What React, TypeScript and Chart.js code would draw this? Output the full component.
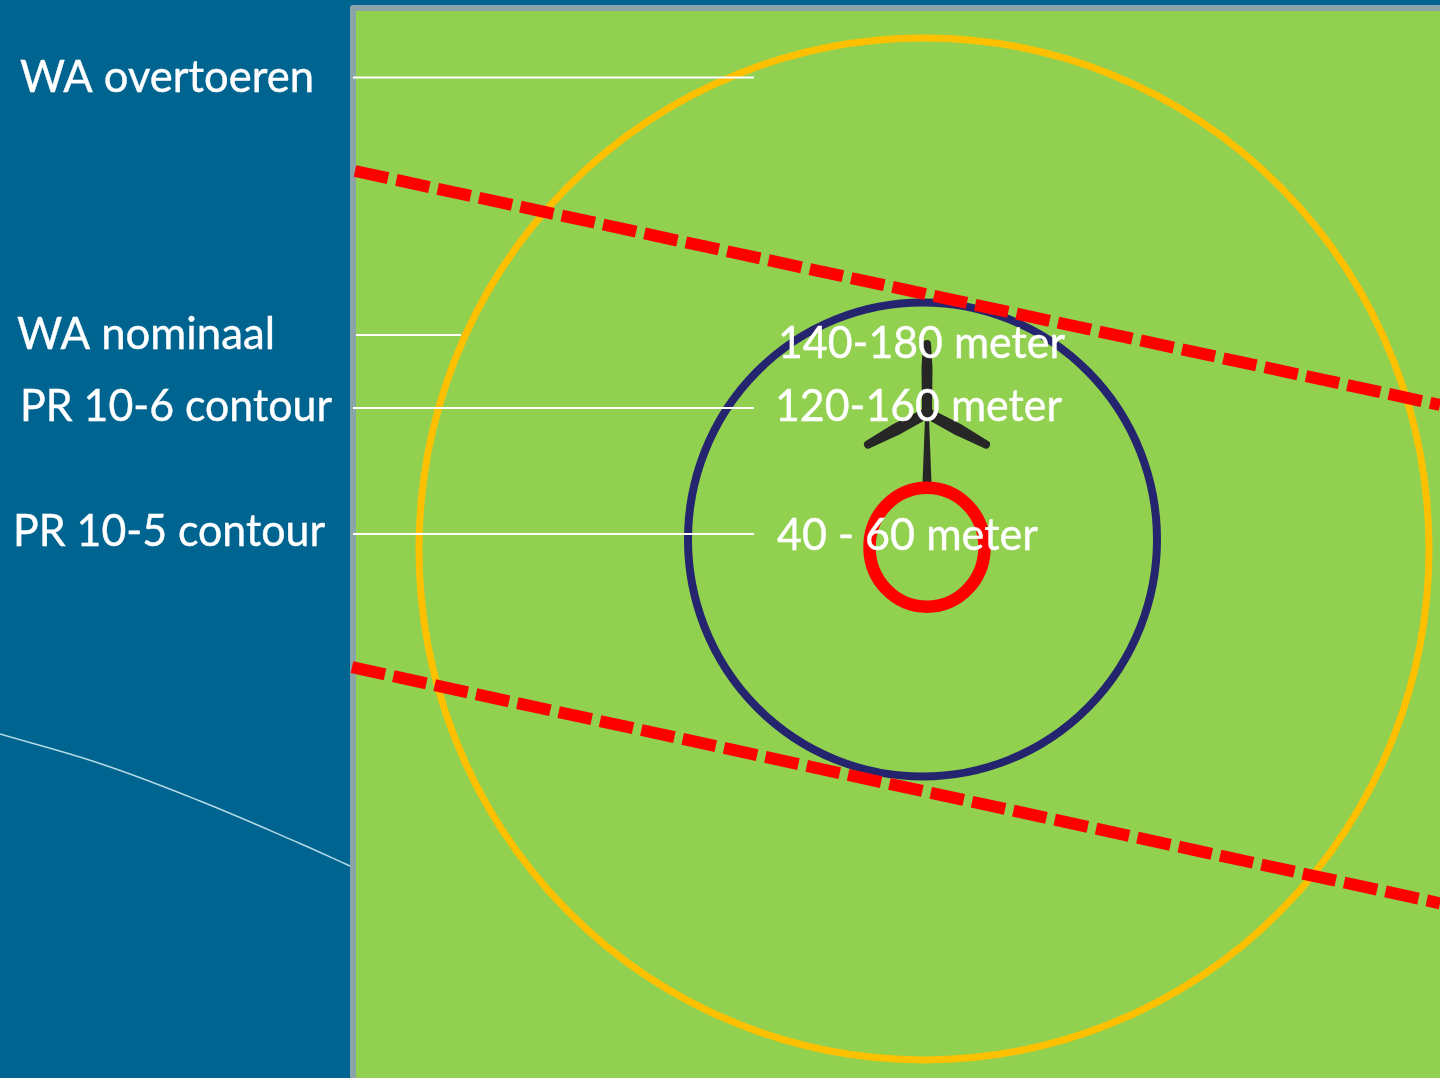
import React, { useEffect, useRef } from "react";
import { Chart, registerables, ScatterController } from "chart.js";

// ---- Data (values are in reference pixel units) ----
const outerLabels = ["WA overtoeren", "WA nominaal", "PR 10-6 contour", "PR 10-5 contour"];
const heightLabels = ["140-180 meter", "120-160 meter", "40 - 60 meter"];

const waOvertoerenLeader = [{ x: 353, y: 77.5 }, { x: 754, y: 77.5 }];
const waNominaalLeader = [{ x: 356, y: 335 }, { x: 461, y: 335 }];
const pr106Leader = [{ x: 353, y: 408 }, { x: 754, y: 408 }];
const pr105Leader = [{ x: 353, y: 534 }, { x: 754, y: 534 }];

const contourUpper = [{ x: 355, y: 171 }, { x: 1440, y: 405 }];
const contourLower = [{ x: 352, y: 667.2 }, { x: 1440, y: 903.3 }];

const coastline = [
  { x: 0, y: 734 }, { x: 100, y: 763.5 }, { x: 200, y: 801 },
  { x: 300, y: 843.5 }, { x: 350, y: 866 },
];

const waRing = [{ x: 924, y: 549, rx: 505, ry: 511 }];
const tipRing = [{ x: 922.5, y: 539.5, rx: 234.5, ry: 237 }];
const rotorRing = [{ x: 927, y: 547.2, rx: 57.5, ry: 59.5 }];

const bladeUp = [
  { x: 927, y: 344 }, { x: 928.5, y: 368 }, { x: 928, y: 412 }, { x: 926, y: 412 }, { x: 925.5, y: 368 },
];
const bladeLeft = [
  { x: 868, y: 444.5 }, { x: 893.8, y: 428.3 }, { x: 924.3, y: 412.7 }, { x: 925.7, y: 415.3 }, { x: 896.2, y: 431.7 },
];
const bladeRight = [
  { x: 986, y: 444.5 }, { x: 960.2, y: 428.3 }, { x: 929.7, y: 412.7 }, { x: 928.3, y: 415.3 }, { x: 957.8, y: 431.7 },
];
const tower = [{ x: 926, y: 418 }, { x: 928, y: 418 }, { x: 930.5, y: 483 }, { x: 923.5, y: 483 }];

// ---- Layout and style ----
const W = 1440;
const H = 1078;
const FONT = "44px Lato";
const outerPos = [[20, 92, 294], [17, 349, 258], [20, 421, 312], [13, 546, 312]];
const heightPos = [[778, 358, 287], [775, 421, 287], [777, 550, 261]];

class RingController extends ScatterController {
  static id = "ring";
  static defaults = ScatterController.defaults;
  static overrides = ScatterController.overrides;
  draw() {
    const ctx = this.chart.ctx;
    const meta = this.getMeta();
    const ds: any = this.getDataset();
    ctx.save();
    ctx.strokeStyle = ds.ringColor;
    ctx.lineWidth = ds.ringWidth;
    for (const p of ds.data) {
      const cx = meta.xScale.getPixelForValue(p.x);
      const cy = meta.yScale.getPixelForValue(p.y);
      const rx = meta.xScale.getPixelForValue(p.x + p.rx) - cx;
      const ry = meta.yScale.getPixelForValue(p.y + p.ry) - cy;
      ctx.beginPath();
      ctx.ellipse(cx, cy, rx, ry, 0, 0, Math.PI * 2);
      ctx.stroke();
    }
    ctx.restore();
  }
}

Chart.register(...registerables, RingController as any);

const panelPlugin = {
  id: "panel",
  beforeDatasetsDraw(chart: any) {
    const { ctx, scales } = chart;
    const px = (v: number) => scales.x.getPixelForValue(v);
    const py = (v: number) => scales.y.getPixelForValue(v);
    ctx.save();
    ctx.fillStyle = "#8BA4A9";
    ctx.beginPath();
    ctx.roundRect(px(350), py(5), px(1440) - px(350), py(1078) - py(5), [3, 0, 0, 0]);
    ctx.fill();
    ctx.fillStyle = "#92D050";
    ctx.fillRect(px(356), py(11), px(1440) - px(356), py(1078) - py(11));
    ctx.restore();
  },
};

const textPlugin = {
  id: "texts",
  afterDatasetsDraw(chart: any) {
    const { ctx, scales } = chart;
    ctx.save();
    ctx.font = FONT;
    ctx.fillStyle = "#FFFFFF";
    ctx.strokeStyle = "#FFFFFF";
    ctx.lineWidth = 0.4;
    ctx.textBaseline = "alphabetic";
    ctx.textAlign = "left";
    const put = (labels: string[], pos: number[][]) =>
      labels.forEach((t, i) => {
        const x = scales.x.getPixelForValue(pos[i][0]);
        const y = scales.y.getPixelForValue(pos[i][1]);
        ctx.fillText(t, x, y, pos[i][2]);
        ctx.strokeText(t, x, y, pos[i][2]);
      });
    put(outerLabels, outerPos);
    put(heightLabels, heightPos);
    ctx.restore();
  },
};

const leader = (data: any[]) => ({
  type: "line", data, borderColor: "#FFFFFF", borderWidth: 2, pointRadius: 0, fill: false,
});
const dashed = (data: any[]) => ({
  type: "line", data, borderColor: "#FF0000", borderWidth: 12, borderDash: [33.8, 8.5],
  borderCapStyle: "butt", pointRadius: 0, fill: false,
});
const poly = (data: any[], borderWidth: number) => ({
  type: "line", data: [...data, data[0]], borderColor: "#262626", backgroundColor: "#262626", borderWidth,
  borderJoinStyle: "round", borderCapStyle: "round", pointRadius: 0, fill: "shape", tension: 0,
});
const ring = (data: any[], ringColor: string, ringWidth: number) => ({
  type: "ring", data, ringColor, ringWidth, pointRadius: 0,
});

export default function App() {
  const ref = useRef<HTMLCanvasElement>(null);
  useEffect(() => {
    document.body.style.margin = "0";
    document.body.style.background = "#006490";
    document.documentElement.style.overflow = "hidden";
    const chart = new Chart(ref.current as HTMLCanvasElement, {
      type: "scatter",
      data: {
        datasets: [
          leader(waOvertoerenLeader),
          leader(waNominaalLeader),
          leader(pr106Leader),
          leader(pr105Leader),
          dashed(contourUpper),
          dashed(contourLower),
          ring(rotorRing, "#FF0000", 12.5),
          poly(bladeUp, 8),
          poly(bladeLeft, 8),
          poly(bladeRight, 8),
          poly(tower, 2),
          ring(tipRing, "#25256F", 8),
          ring(waRing, "#FFC000", 7),
          { type: "line", data: coastline, borderColor: "#B4DAE6", borderWidth: 1.5, pointRadius: 0, fill: false, tension: 0.4 },
        ] as any,
      },
      options: {
        animation: false,
        responsive: false,
        devicePixelRatio: 1,
        layout: { padding: 0 },
        plugins: { legend: { display: false }, tooltip: { enabled: false }, title: { display: false } },
        scales: {
          x: { type: "linear", min: 0, max: W, display: false },
          y: { type: "linear", min: 0, max: H, reverse: true, display: false },
        },
      } as any,
      plugins: [panelPlugin, textPlugin],
    });
    return () => chart.destroy();
  }, []);
  return (
    <canvas
      ref={ref}
      width={W}
      height={H}
      style={{ display: "block", position: "absolute", left: 0, top: 0, background: "#006490" }}
    />
  );
}
